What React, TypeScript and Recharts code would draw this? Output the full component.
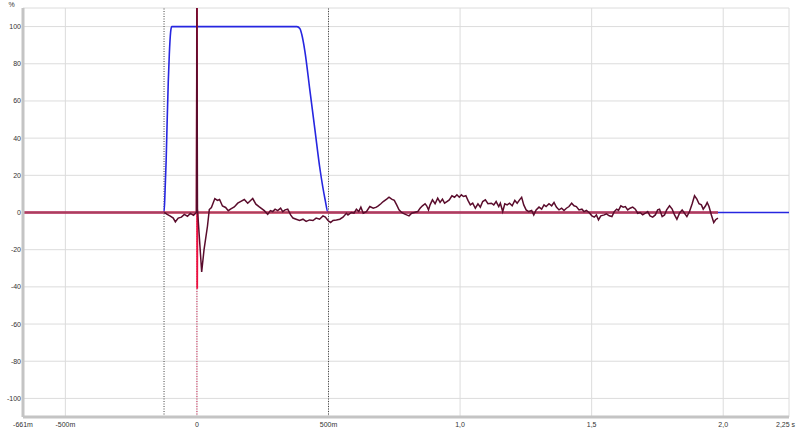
import { LineChart, Line, XAxis, YAxis, CartesianGrid, ReferenceLine } from 'recharts';

// time axis in seconds, values in %
const xTicks = [-0.661, -0.5, 0, 0.5, 1.0, 1.5, 2.0, 2.25];
const xTickLabels = ['-661m', '-500m', '0', '500m', '1,0', '1,5', '2,0', '2,25 s'];
const yTicks = [-100, -80, -60, -40, -20, 0, 20, 40, 60, 80, 100];

// window (blue)
const windowTimes = [-0.661, -0.125, -0.121, -0.117, -0.113, -0.109, -0.105, -0.1, -0.096, 0.38, 0.391, 0.398, 0.41, 0.429, 0.448, 0.468, 0.487, 0.498, 2.25];
const windowValues = [0, 0, 12, 28, 50, 70, 85, 97, 100, 100, 99, 96, 87, 66, 45, 23, 7, 0, 0];

// impulse (red)
const impulseTimes = [-0.661, -0.001, 0.0, 0.001, 0.002, 1.98];
const impulseValues = [0, 0, 110, -41, 0, 0];

const baselineTimes = [-0.661, 1.98];
const baselineValues = [0, 0];

// filtered response (dark)
const darkTimes = [
  -0.124, -0.113, -0.101, -0.09, -0.082, -0.071, -0.059, -0.048, -0.036, -0.025, -0.013, -0.002,
  0.0, 0.002, 0.018, 0.027, 0.04, 0.047, 0.055, 0.068, 0.078, 0.086, 0.097, 0.109, 0.119, 0.129,
  0.142, 0.155, 0.167, 0.18, 0.193, 0.212, 0.224, 0.237, 0.256, 0.269, 0.279, 0.288, 0.297, 0.307,
  0.318, 0.326, 0.335, 0.345, 0.356, 0.365, 0.377, 0.39, 0.403, 0.415, 0.428, 0.441, 0.453, 0.466,
  0.479, 0.488, 0.498, 0.508, 0.517, 0.53, 0.543, 0.555, 0.568, 0.574, 0.587, 0.597, 0.606, 0.615,
  0.623, 0.632, 0.644, 0.657, 0.67, 0.682, 0.689, 0.699, 0.708, 0.721, 0.73, 0.74, 0.75, 0.759,
  0.768, 0.778, 0.788, 0.797, 0.806, 0.816, 0.826, 0.839, 0.848, 0.857, 0.867, 0.873, 0.88, 0.886,
  0.895, 0.905, 0.915, 0.924, 0.933, 0.941, 0.95, 0.959, 0.969, 0.979, 0.988, 0.997, 1.005, 1.013,
  1.022, 1.03, 1.039, 1.048, 1.058, 1.068, 1.077, 1.086, 1.096, 1.106, 1.119, 1.128, 1.137, 1.147,
  1.153, 1.162, 1.17, 1.179, 1.188, 1.198, 1.208, 1.217, 1.226, 1.234, 1.242, 1.251, 1.261, 1.272,
  1.28, 1.289, 1.3, 1.31, 1.319, 1.327, 1.338, 1.348, 1.357, 1.366, 1.376, 1.386, 1.395, 1.404,
  1.414, 1.424, 1.433, 1.442, 1.452, 1.463, 1.471, 1.48, 1.49, 1.501, 1.51, 1.518, 1.526, 1.535,
  1.548, 1.556, 1.567, 1.577, 1.586, 1.595, 1.602, 1.611, 1.62, 1.628, 1.637, 1.646, 1.656, 1.666,
  1.675, 1.684, 1.694, 1.704, 1.713, 1.722, 1.732, 1.742, 1.751, 1.758, 1.768, 1.777, 1.785, 1.796,
  1.806, 1.815, 1.824, 1.834, 1.844, 1.853, 1.862, 1.872, 1.882, 1.891, 1.9, 1.908, 1.917, 1.924,
  1.933, 1.939, 1.946, 1.955, 1.964, 1.971, 1.98,
];
const darkValues = [
  0, -1, -2, -3, -5, -3, -2.5, -1, -2, -0.5, -1.5, 0,
  110, 2, -32, -20, -7.4, 1.6, 2.7, 7.5, 6.5, 7, 3.5, 2.7, 1, 2,
  3, 5, 6, 7, 5, 7.5, 4.5, 3, 1, -1, 1, 0.5, 1.8, 1,
  2.3, 0.5, 1.4, 1.8, -1.3, -3, -3.6, -4.3, -3.6, -4.8, -4, -4.3, -3, -3.6,
  -1.8, -2.5, -4.3, -5.4, -4.3, -4, -3.6, -2.5, -0.4, -1.3, 0, -0.4, 1.8, 0.5,
  2.9, -0.4, 0.5, 3.2, 2.3, 2.9, 3.6, 4.7, 5.9, 7.2, 8.2, 7.2, 6.5, 4.1,
  1.4, 0, -0.7, -1.3, -1.8, -0.4, 0, 0.5, 2.3, 3.6, 4.7, 3.6, 1.4, 4.1,
  6.8, 4.7, 7.7, 5.4, 7.2, 5, 5.9, 6.8, 9, 8.2, 9.5, 8.2, 9.5, 8.6,
  9, 6.5, 4.1, 5, 2.3, 4.7, 2.9, 5.9, 6.8, 4.7, 5, 4.1, 5.9, 3.2,
  5, 0.5, 4.7, 4.1, 5, 3.6, 6.5, 5, 6.8, 8.2, 4.1, 1.4, 0.5, 1.1,
  -1.3, 1.4, 2.9, 1.8, 4.1, 3.2, 4.7, 3.6, 5.4, 2.9, 1.4, 2.3, 1.1, 2.3,
  3.2, 5, 3.6, 3.2, 1.4, 1.8, 0.5, 1.1, 0, -1.8, -2.5, -1.3, -3.9, -1.8,
  -1.3, -0.7, -1.8, -2.2, 0.5, 1.8, 1.1, 3.6, 2.9, 3.2, 1.4, 2.3, 2.9, 1.8,
  -0.4, 0, -1.3, -0.4, 0.5, -1.8, -2.5, -1.3, 1.4, 1.8, -2.2, -1.3, 1.4, 3.6,
  1.8, -1.3, -3.6, -0.4, 1.4, -0.4, -2.2, 0.5, 4.7, 9, 7.2, 4.7, 4.1, 1.8,
  3.6, 5.4, 3.2, -1.3, -5.4, -3.9, -3,
];

const zip = (ts: number[], vs: number[]) =>
  ts.slice(0, Math.min(ts.length, vs.length)).map((t, i) => ({ t, v: vs[i] }));

const windowData = zip(windowTimes, windowValues);
const impulseData = zip(impulseTimes, impulseValues);
const baselineData = zip(baselineTimes, baselineValues);
const darkData = zip(darkTimes, darkValues);

const FONT = '"Liberation Sans", Arial, sans-serif';
const FRAME = '#c4c4c4';
const TEXT = '#333';

const XTick = (props: any) => {
  const { x, y, payload } = props;
  const i = xTicks.indexOf(payload.value);
  const last = i === xTicks.length - 1;
  return (
    <text x={last ? x - 10 : x} y={y + 7.5} textAnchor={last ? 'start' : 'middle'} fontSize={7} fontFamily={FONT} fill={TEXT}>
      {xTickLabels[i] ?? ''}
    </text>
  );
};

const YTick = (props: any) => {
  const { x, y, payload } = props;
  return (
    <text x={x} y={y + 2.5} textAnchor="end" fontSize={7} fontFamily={FONT} fill={TEXT} stroke="none">
      {payload.value}
    </text>
  );
};

export default function App() {
  return (
    <div style={{ position: 'absolute', left: 0, top: 0, width: 800, height: 430, background: '#fff' }}>
      <LineChart width={800} height={430} margin={{ top: 8, right: 11, left: 0, bottom: 0 }}>
        <CartesianGrid stroke="#dcdcdc" strokeWidth={1} />
        <XAxis
          dataKey="t"
          type="number"
          domain={[-0.661, 2.25]}
          ticks={xTicks}
          allowDataOverflow
          height={13}
          tickSize={0}
          tickMargin={2}
          tick={<XTick />}
          axisLine={{ stroke: FRAME, strokeWidth: 3 }}
        />
        <XAxis
          xAxisId="top"
          orientation="top"
          type="number"
          domain={[-0.661, 2.25]}
          height={0}
          tick={false}
          tickLine={false}
          axisLine={{ stroke: '#d8d8d8', strokeWidth: 2 }}
        />
        <YAxis
          type="number"
          domain={[-110, 110]}
          ticks={yTicks}
          allowDataOverflow
          width={23}
          tickSize={0}
          tickMargin={2}
          tick={<YTick />}
          axisLine={{ stroke: FRAME, strokeWidth: 3 }}
          label={{ value: '%', position: 'top', offset: 1, fontSize: 7, fill: TEXT, fontFamily: FONT }}
        />
        <YAxis
          yAxisId="right"
          orientation="right"
          type="number"
          domain={[-110, 110]}
          width={0}
          tick={false}
          tickLine={false}
          axisLine={{ stroke: FRAME, strokeWidth: 3 }}
        />
        <ReferenceLine x={-0.125} stroke="#444" strokeDasharray="1 1.5" />
        <ReferenceLine x={0.5} stroke="#444" strokeDasharray="1 1.5" />
        <ReferenceLine x={0} stroke="#d02050" strokeDasharray="1 1.5" />
        <Line data={windowData} dataKey="v" type="monotone" stroke="#2626e0" strokeWidth={1.6} dot={false} isAnimationActive={false} />
        <Line data={impulseData} dataKey="v" type="linear" stroke="#ee1040" strokeWidth={1.8} dot={false} isAnimationActive={false} />
        <Line data={baselineData} dataKey="v" type="linear" stroke="#a8405c" strokeWidth={2} dot={false} isAnimationActive={false} />
        <Line data={darkData} dataKey="v" type="linear" stroke="#5a0c2c" strokeWidth={1.5} dot={false} isAnimationActive={false} />
      </LineChart>
    </div>
  );
}
